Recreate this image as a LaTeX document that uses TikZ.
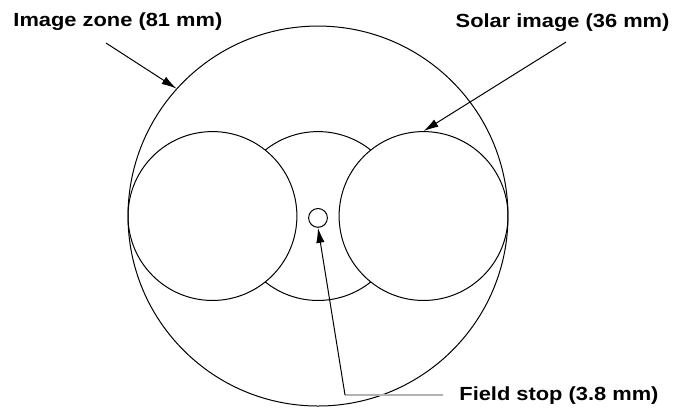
\documentclass[tikz,border=0pt]{standalone}
\usepackage{fontspec}
\newfontfamily\lblfont{Liberation Sans}[FakeStretch=1.15]
\usepackage{tikz}
\usetikzlibrary{arrows.meta, positioning}

\tikzset{
    disc/.style={circle, draw, line width=0.5pt, inner sep=0pt},
    lbl/.style={font=\lblfont\bfseries\fontsize{9.5pt}{11pt}\selectfont, inner sep=0pt},
    pointer/.style={-{Latex[length=7.5pt, width=4.2pt]}, line width=0.5pt}
}

\begin{document}
\begin{tikzpicture}[x=2.3457pt, y=2.3457pt]
    \useasboundingbox (-67.79,-40.72) rectangle (75.89,46.05);

    % image zone and the two solar images
    \node[disc, minimum size=190pt] (zone) at (0,0) {};
    \node[disc, minimum size=84.45pt] (leftsun) at (-22.5,0) {};
    \node[disc, minimum size=84.45pt] (rightsun) at (22.5,0) {};
    \draw[line width=0.5pt] (51.3:18) arc[start angle=51.3, end angle=128.7, radius=18];
    \draw[line width=0.5pt] (231.3:18) arc[start angle=231.3, end angle=308.7, radius=18];
    \node[disc, minimum size=9.4pt] (stop) at (0,-0.4) {};

    % labels
    \node[lbl, anchor=base west] (zonelabel) at (-65.0,40.3) {Image zone (81 mm)};
    \node[lbl, anchor=base east] (sunlabel) at (75.0,40.1) {Solar image (36 mm)};
    \node[lbl, anchor=base west] (stoplabel) at (30.06,-39.3) {Field stop (3.8 mm)};

    \coordinate (zonetail) at (-45.19,36.88);
    \coordinate (suntail) at (52.87,37.09);
    \coordinate (bend) at (5.76,-38.16);
    \coordinate (stopline) at (26.65,-38.16);

    \draw[pointer] (zonetail) -- (zone.138);
    \draw[pointer] (suntail) -- (rightsun.north);
    \draw[gray!60, line width=0.6pt] (stopline) -- (bend);
    \draw[pointer] (bend) -- (stop.south);
\end{tikzpicture}
\end{document}
